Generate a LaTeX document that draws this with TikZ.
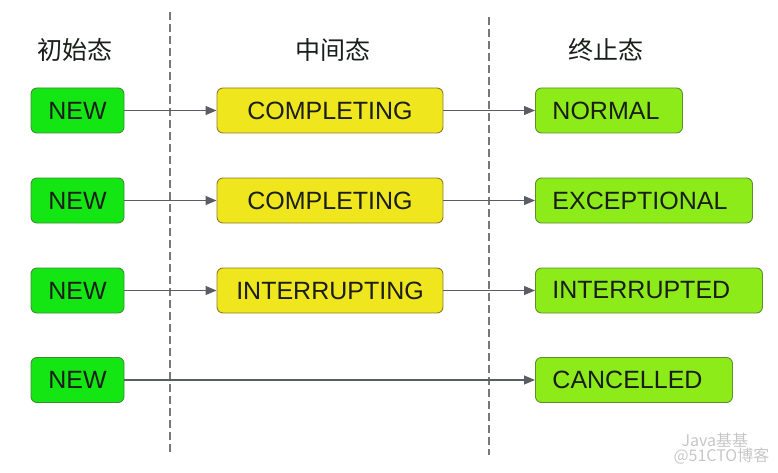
\documentclass[tikz,border=0pt]{standalone}
\usepackage{fontspec}
\setmainfont{Liberation Sans}
\newfontfamily\cjk{Noto Sans CJK SC}
\usetikzlibrary{arrows.meta}

\definecolor{newfill}{HTML}{14E614}
\definecolor{newline}{HTML}{3C8C32}
\definecolor{midfill}{HTML}{F0E61E}
\definecolor{midline}{HTML}{8C7D28}
\definecolor{endfill}{HTML}{8CEB19}
\definecolor{endline}{HTML}{5F8C2D}
\definecolor{flowgray}{HTML}{5A5E64}
\definecolor{sepgray}{HTML}{787878}
\definecolor{textdark}{HTML}{1A1E1A}

\begin{document}
\begin{tikzpicture}[x=1pt, y=-1pt, >={Triangle[length=11pt, width=9pt]},
  every node/.style={font=\fontsize{25}{28}\selectfont, text=textdark},
  initbox/.style={draw=newline, fill=newfill, line width=0.9pt, rounded corners=6pt, minimum width=93pt, minimum height=45pt, inner ysep=0pt},
  midbox/.style={draw=midline, fill=midfill, line width=0.9pt, rounded corners=6pt, minimum width=226pt, minimum height=45pt, inner ysep=0pt},
  endbox/.style={draw=endline, fill=endfill, line width=0.9pt, rounded corners=6pt, anchor=west, inner xsep=17pt, align=left, minimum height=45pt, inner ysep=0pt},
  flow/.style={->, draw=flowgray, fill=flowgray, line width=1.2pt},
  sep/.style={draw=sepgray, line width=1.4pt, dash pattern=on 8pt off 4pt}]
  \useasboundingbox (0,0) rectangle (778,473);
  % column separators
  \coordinate (sepAtop) at (170,12);
  \coordinate (sepAbot) at (170,455);
  \coordinate (sepBtop) at (489,17);
  \coordinate (sepBbot) at (489,455);
  \draw[sep] (sepAtop) -- (sepAbot);
  \draw[sep] (sepBtop) -- (sepBbot);
  % headers
  \node[font=\cjk\fontsize{25}{28}\selectfont] (hinit) at (75,50) {初始态};
  \node[font=\cjk\fontsize{25}{28}\selectfont] (hmid) at (333,50) {中间态};
  \node[font=\cjk\fontsize{25}{28}\selectfont] (hend) at (606,50) {终止态};
  % initial states
  \node[initbox] (new1) at (77.5,110.5) {NEW};
  \node[initbox] (new2) at (77.5,200.5) {NEW};
  \node[initbox] (new3) at (77.5,290.5) {NEW};
  \node[initbox] (new4) at (77.5,380) {NEW};
  % intermediate states
  \node[midbox] (mid1) at (330,110.5) {COMPLETING};
  \node[midbox] (mid2) at (330,200.5) {COMPLETING};
  \node[midbox] (mid3) at (330,290.5) {INTERRUPTING};
  % final states
  \node[endbox, text width=113pt] (end1) at (535,110.5) {NORMAL};
  \node[endbox, text width=183pt] (end2) at (535,200.5) {EXCEPTIONAL};
  \node[endbox, text width=193pt] (end3) at (535,290.5) {INTERRUPTED};
  \node[endbox, text width=163pt] (end4) at (535,380) {CANCELLED};
  % transitions
  \draw[flow] (new1) -- (mid1);
  \draw[flow] (new2) -- (mid2);
  \draw[flow] (new3) -- (mid3);
  \draw[flow] (mid1) -- (end1);
  \draw[flow] (mid2) -- (end2);
  \draw[flow] (mid3) -- (end3);
  \draw[flow] (new4) -- (end4);
  % watermark
  \node[font=\cjk\fontsize{16}{18}\selectfont, text=black!22, anchor=west] (wm1) at (678,440) {Java基基};
  \node[font=\cjk\fontsize{16}{18}\selectfont, text=black!22, anchor=west] (wm2) at (670,456) {@51CTO博客};
\end{tikzpicture}
\end{document}
